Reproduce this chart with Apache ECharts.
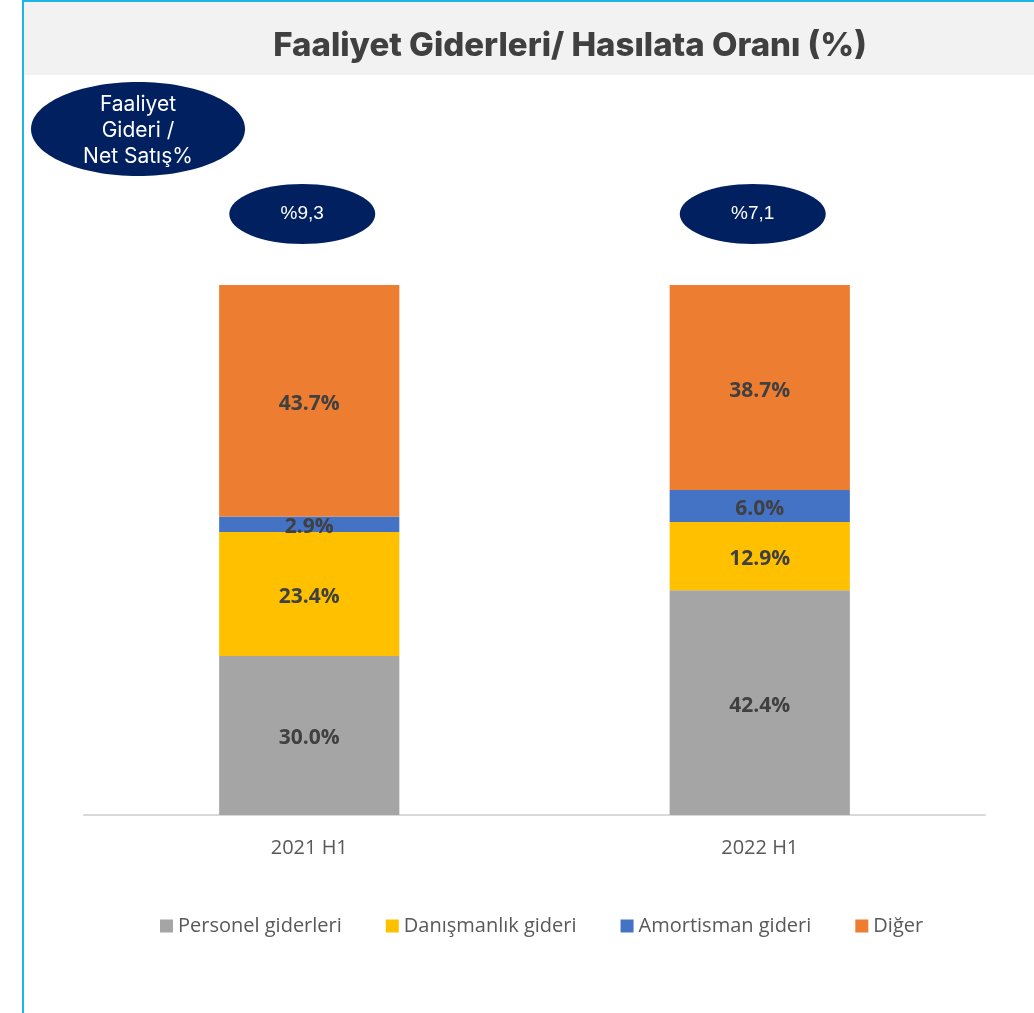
<!DOCTYPE html>
<html lang="tr">

<head>
    <meta charset="UTF-8">
    <title>Faaliyet Giderleri</title>
    <style>
        html, body {
            margin: 0;
            padding: 0;
            background: #fff;
        }

        .main {
            width: 1034px;
            height: 1013px;
        }
    </style>
    <script src="https://cdn.jsdelivr.net/npm/echarts@6/dist/echarts.min.js"></script>
</head>

<body>
    <div class="main"></div>
    <script>
        // veriler
        var categories = ['2021 H1', '2022 H1'];
        var personel = [30.0, 42.4];
        var danismanlik = [23.4, 12.9];
        var amortisman = [2.9, 6.0];
        var diger = [43.7, 38.7];
        var ratioLabels = ['%9,3', '%7,1'];

        var seriesNames = ['Personel giderleri', 'Danışmanlık gideri', 'Amortisman gideri', 'Diğer'];
        var seriesColors = ['#a5a5a5', '#ffc000', '#4472c4', '#ed7d31'];
        var seriesData = [personel, danismanlik, amortisman, diger];

        var myChart = echarts.init(document.querySelector('.main'));

        var series = [];
        for (var i = 0; i < seriesNames.length; i++) {
            series.push({
                name: seriesNames[i],
                type: 'bar',
                stack: 'total',
                barWidth: '40%',
                data: seriesData[i],
                itemStyle: { color: seriesColors[i] },
                label: {
                    show: true,
                    position: 'inside',
                    offset: [0, 3],
                    formatter: function (p) { return p.value.toFixed(1) + '%'; },
                    color: '#404040',
                    fontWeight: 'bold',
                    fontSize: 21,
                    fontFamily: 'Open Sans'
                }
            });
        }

        var option = {
            animation: false,
            backgroundColor: '#fff',
            title: {
                text: 'Faaliyet Giderleri/ Hasılata Oranı (%)',
                left: 565,
                top: 25,
                textAlign: 'center',
                textStyle: {
                    fontSize: 33,
                    fontWeight: 800,
                    fontFamily: 'Inter',
                    color: '#404040'
                }
            },
            grid: {
                left: 84,
                right: 49,
                top: 285,
                bottom: 198,
                containLabel: false
            },
            legend: {
                bottom: 72,
                left: 155,
                itemWidth: 13,
                itemHeight: 13,
                itemGap: 44,
                icon: 'rect',
                textStyle: {
                    fontSize: 20,
                    color: '#595959',
                    fontFamily: 'Open Sans'
                },
                data: seriesNames
            },
            xAxis: {
                type: 'category',
                data: categories,
                axisLine: { lineStyle: { color: '#d9d9d9', width: 2 } },
                axisTick: { show: false },
                axisLabel: {
                    margin: 23,
                    fontSize: 20,
                    color: '#595959',
                    fontFamily: 'Open Sans'
                }
            },
            yAxis: {
                type: 'value',
                min: 0,
                max: 100,
                show: false
            },
            series: series
        };

        myChart.setOption(option);

        // çerçeve, başlık zemini ve elipsler
        var graphics = [
            {
                type: 'rect', z: -10, silent: true,
                shape: { x: 24, y: 2, width: 1010, height: 73 },
                style: { fill: '#f2f2f2' }
            },
            {
                type: 'rect', z: 10, silent: true,
                shape: { x: 22, y: 0, width: 2, height: 1013 },
                style: { fill: '#1fb4e6' }
            },
            {
                type: 'rect', z: 10, silent: true,
                shape: { x: 22, y: 0, width: 1012, height: 2 },
                style: { fill: '#1fb4e6' }
            },
            {
                type: 'ellipse', silent: true,
                shape: { cx: 138, cy: 129, rx: 107, ry: 47 },
                style: { fill: '#002060' }
            },
            {
                type: 'text', silent: true, z: 20,
                x: 138, y: 131,
                style: {
                    text: 'Faaliyet\nGideri /\nNet Satış%',
                    fill: '#fff',
                    fontSize: 21,
                    lineHeight: 26,
                    fontFamily: 'Inter',
                    align: 'center',
                    verticalAlign: 'middle'
                }
            }
        ];

        for (var k = 0; k < categories.length; k++) {
            var px = myChart.convertToPixel({ xAxisIndex: 0 }, categories[k]) - 7;
            graphics.push({
                type: 'ellipse', silent: true,
                shape: { cx: px, cy: 214, rx: 73, ry: 30 },
                style: { fill: '#002060' }
            });
            graphics.push({
                type: 'text', silent: true, z: 20,
                x: px, y: 214,
                style: {
                    text: ratioLabels[k],
                    fill: '#fff',
                    fontSize: 19,
                    fontFamily: 'Liberation Sans',
                    align: 'center',
                    verticalAlign: 'middle'
                }
            });
        }

        myChart.setOption({ graphic: graphics });
    </script>
</body>

</html>
